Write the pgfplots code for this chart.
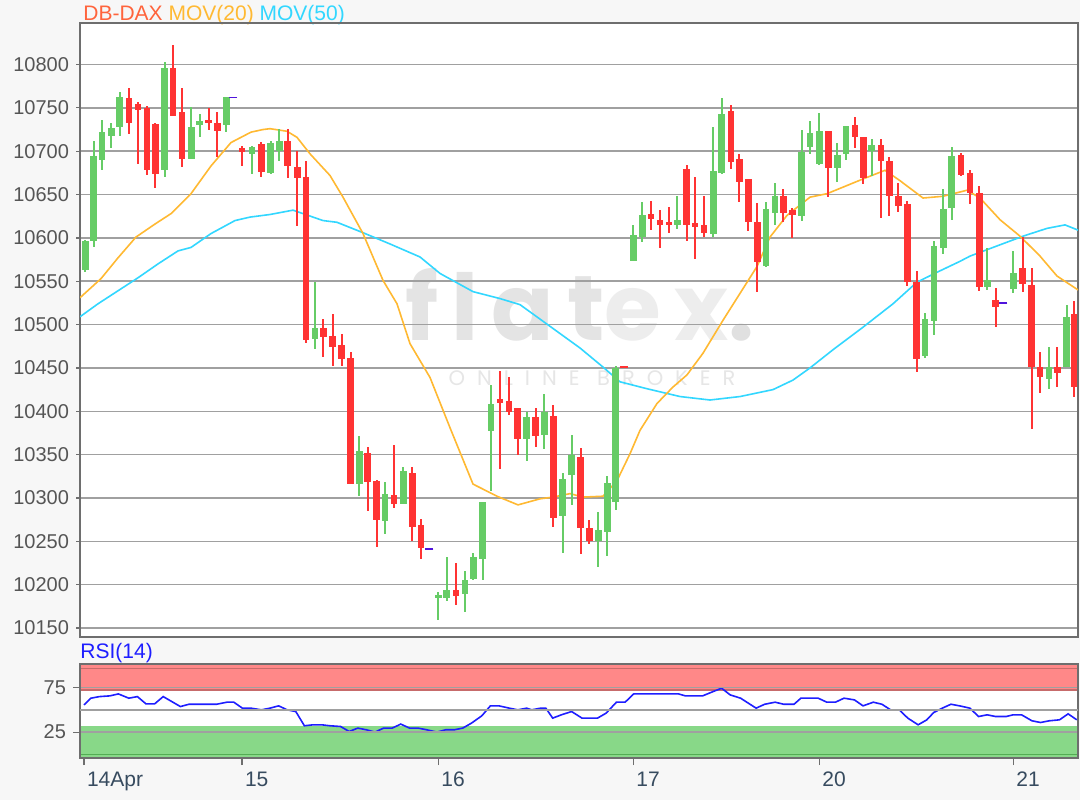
\documentclass[border=0pt]{standalone}
\usepackage{pgfplots}
\pgfplotsset{compat=1.18}
\usepackage{pgfplotstable}
\usepackage{fontspec}
\setmainfont{Liberation Sans}
\newfontfamily\wmfont[LetterSpace=14]{Poppins}
\newfontfamily\wmsmall[LetterSpace=57]{Poppins}

\definecolor{bgc}{RGB}{247,247,247}
\definecolor{axc}{RGB}{110,110,110}
\definecolor{gridc}{RGB}{160,160,160}
\definecolor{labc}{RGB}{85,85,85}
\definecolor{xlabc}{RGB}{55,75,95}
\definecolor{cgreen}{RGB}{102,204,102}
\definecolor{cred}{RGB}{255,51,51}
\definecolor{maorange}{RGB}{255,185,50}
\definecolor{macyan}{RGB}{50,215,255}
\definecolor{dashblue}{RGB}{80,20,220}
\definecolor{rsiblue}{RGB}{30,30,255}
\definecolor{bandred}{RGB}{255,136,136}
\definecolor{bandgreen}{RGB}{136,216,136}
\definecolor{titlered}{RGB}{255,100,60}

% candles: x position (chart px), open, high, low, close
\pgfplotstableread{
x o h l c
85.3 10563 10598 10561 10597
93.7 10596 10712 10589 10694
102 10690 10736 10678 10722
111.3 10718 10732 10704 10727
119.7 10728 10768 10718 10763
164.7 10678 10803 10670 10796
191.3 10691 10751 10691 10728
199.7 10730 10743 10716 10735
226.3 10730 10763 10722 10763
252 10697 10706 10674 10705
270.5 10675 10712 10674 10710
279.3 10700 10726 10689 10712
315 10483 10549 10472 10496
359.3 10316 10371 10302 10354
385 10273 10318 10258 10305
403.3 10293 10336 10293 10331
438.3 10185 10192 10159 10188
446.7 10185 10232 10181 10194
465 10189 10216 10169 10206
473.3 10207 10237 10205 10232
482.7 10230 10296 10205 10296
491 10377 10430 10308 10409
526.7 10368 10399 10343 10393
544.3 10373 10420 10357 10399
562.7 10279 10329 10237 10322
571.7 10327 10373 10292 10350
598.3 10250 10284 10221 10263
607.3 10261 10326 10233 10317
615.7 10295 10452 10286 10450
633.3 10573 10615 10573 10603
642.3 10601 10642 10595 10626
677.3 10615 10648 10610 10621
713.3 10605 10728 10601 10677
721.7 10675 10761 10674 10743
766 10568 10642 10567 10633
775 10629 10663 10615 10648
801.7 10625 10725 10619 10699
810 10705 10735 10697 10721
819.3 10685 10744 10684 10723
837.3 10681 10709 10665 10696
846 10697 10729 10690 10729
871.7 10700 10714 10671 10707
925 10464 10513 10462 10506
934 10504 10597 10488 10591
943.3 10589 10657 10582 10634
951.7 10635 10705 10621 10695
987.3 10543 10588 10540 10552
1013.3 10541 10585 10536 10560
1049 10437 10474 10426 10451
1066.7 10451 10523 10451 10509
}\greencandles

\pgfplotstableread{
x o h l c
129 10761 10773 10720 10732
138 10754 10757 10685 10748
147 10750 10752 10672 10678
155.3 10731 10733 10658 10674
173 10796 10823 10741 10741
182 10745 10773 10682 10691
208.7 10736 10750 10724 10732
217.3 10733 10745 10693 10723
242 10704 10706 10683 10699
261.2 10708 10711 10670 10676
287.7 10712 10726 10669 10683
297.3 10682 10700 10614 10669
306 10670 10689 10479 10482
323.3 10496 10507 10463 10486
332.7 10487 10512 10452 10474
341.7 10476 10489 10452 10460
350.7 10462 10468 10316 10316
367.7 10352 10359 10285 10318
376.7 10320 10321 10244 10275
394 10303 10361 10288 10293
412.3 10329 10336 10250 10267
421 10269 10276 10230 10242
456 10194 10225 10177 10187
500 10414 10446 10334 10410
509 10412 10440 10396 10399
517.7 10404 10404 10350 10368
535.7 10393 10404 10359 10371
553.3 10395 10407 10267 10277
580.7 10347 10358 10235 10265
589.3 10266 10275 10247 10250
651 10628 10642 10609 10622
660 10621 10632 10588 10615
669 10618 10636 10606 10615
686.7 10679 10684 10597 10615
695 10617 10670 10576 10613
704 10615 10648 10601 10606
731 10746 10753 10679 10688
739.3 10691 10697 10642 10665
748.3 10668 10668 10608 10618
757.3 10619 10640 10538 10572
783.3 10648 10656 10619 10629
792.3 10632 10635 10600 10627
828.3 10723 10723 10647 10681
855 10730 10740 10704 10716
863.3 10717 10717 10662 10669
881 10707 10714 10623 10689
889.3 10689 10693 10625 10648
898.3 10648 10663 10630 10637
907.3 10639 10643 10545 10549
916.7 10549 10562 10445 10460
961 10696 10698 10671 10673
970 10675 10678 10639 10652
979.3 10652 10660 10539 10543
995.7 10529 10542 10497 10520
1022.7 10565 10601 10538 10547
1031.7 10546 10565 10380 10451
1040 10451 10468 10421 10439
1057.3 10451 10474 10428 10444
1074 10512 10527 10416 10428
}\redcandles

\pgfplotstableread{
x rsi
84 55.6
90.9 63.1
99.5 64.9
109.8 65.7
118.4 67.9
128.8 63.1
137.4 64.9
146 56.7
154.6 56.7
163.2 64.9
171.8 59.3
180.4 53.7
189 56.3
216.6 56.3
226.9 58.6
233.8 58.6
242.4 51.9
251 51.9
261.4 50
270 51.9
278.6 54.5
287.2 50
295.8 48.1
304.4 32.1
313 33.2
321.6 33.2
330.2 32.1
340.6 31.3
349.2 25.7
357.8 29.5
366.4 27.6
375 25
383.6 29.5
392.2 29.5
400.8 34
409.5 29.5
418.1 29.5
426.7 27.6
437 25
445.6 27.6
454.2 27.6
462.8 29.5
471.5 35.1
481.8 43.3
490.4 54.5
499 54.5
509.3 51.9
517.9 50
526.6 51.9
531.7 50
540.6 51.9
545.8 51.9
552.7 40.7
561.3 44.4
571.6 48.1
582 40.7
597.5 40.7
606.1 46.3
616.4 58.6
625.1 58.6
633.7 67.9
678.5 67.9
685.4 65.7
702.6 65.7
713 70.5
721.6 74.3
730.2 66.8
740.6 63.1
756.1 51.9
764.7 56.3
775.1 58.6
783.7 56.3
794 56.3
800.9 63.1
818.2 63.1
826.8 58.6
835.4 58.6
844 63.1
854.4 61.2
863 54.5
873.3 58.6
881.9 56.3
890.6 50
899.2 50
907.8 40.7
918.1 33.2
926.8 38.8
933.7 47
942.3 51.9
950.9 56.3
959.5 54.5
969.9 51.9
978.5 42.5
987.1 44.4
995.7 42.5
1006.1 42.5
1013 44.4
1021.6 44.4
1031.9 37.7
1040.6 35.8
1049.2 37.7
1059.5 38.8
1068.1 45.5
1076.8 38.8
}\rsidata

\begin{document}
\begin{tikzpicture}
\useasboundingbox (0,0) rectangle (540pt,400pt);
\fill[bgc] (0,0) rectangle (540pt,400pt);
\fill[white] (40pt,81.5pt) rectangle (539pt,388.5pt);
\fill[white] (40pt,21pt) rectangle (539pt,68pt);

% watermark
\node[anchor=base, inner sep=0pt] at (290pt,230pt)
  {\wmfont\bfseries\fontsize{46}{48}\selectfont\textcolor[RGB]{228,228,228}{flat}\textcolor[RGB]{237,237,237}{ex}\textcolor[RGB]{224,224,224}{.}};
\node[anchor=center, inner sep=0pt] at (296pt,211pt)
  {\wmsmall\fontsize{10.5}{12}\selectfont\textcolor[RGB]{230,230,230}{ONLINE BROKER}};

% title
\node[anchor=west, inner sep=0pt] at (41.5pt,392.5pt)
  {\fontsize{10.5}{12}\selectfont\textcolor{titlered}{DB-DAX}\ \textcolor{maorange}{MOV(20)}\ \textcolor{macyan}{MOV(50)}};
\node[anchor=west, inner sep=0pt] at (40pt,73.5pt)
  {\fontsize{10.5}{12}\selectfont\textcolor{rsiblue}{RSI(14)}};

\begin{axis}[
  at={(40pt,81.5pt)}, anchor=south west,
  scale only axis, width=499pt, height=307pt,
  xmin=80, xmax=1078, ymin=10139.6, ymax=10847.9,
  xtick=\empty,
  ytick={10150,10200,...,10800},
  scaled y ticks=false,
  ytick pos=left, tick align=outside, major tick length=2pt,
  tick style={axc, line width=0.6pt},
  ymajorgrids, grid style={gridc, line width=0.75pt},
  axis line style={axc, line width=0.8pt},
  yticklabel style={font=\fontsize{10}{12}\selectfont, text=labc,
    /pgf/number format/fixed, /pgf/number format/precision=0,
    /pgf/number format/1000 sep={}, /pgf/number format/assume math mode=true},
]
% moving average 50
\addplot[macyan, line width=0.8pt] coordinates {
(80,10509) (98,10524) (118,10539) (138,10554) (158,10570) (178,10585) (191,10589)
(211,10605) (235,10620) (250,10624) (270,10627) (293,10632) (303,10628) (323,10620)
(337,10618) (363,10606) (390,10593) (420,10578) (440,10559) (473,10538) (500,10530)
(520,10523) (550,10498) (580,10473) (603,10451) (620,10434) (647,10426) (680,10417)
(710,10413) (740,10417) (773,10425) (793,10436) (810,10450) (833,10471) (863,10497)
(893,10524) (917,10549) (940,10562) (960,10573) (970,10579) (993,10589) (1023,10602)
(1047,10611) (1065,10615) (1078,10609)
};
% moving average 20
\addplot[maorange, line width=0.8pt] coordinates {
(80,10531) (101,10553) (118,10577) (136,10601) (155,10616) (171,10628) (191,10651)
(211,10683) (231,10710) (251,10722) (263,10725) (270,10726) (287,10723) (297,10716)
(310,10697) (330,10672) (343,10647) (363,10605) (383,10551) (397,10524) (410,10478)
(430,10439) (450,10381) (473,10316) (497,10302) (518,10292) (540,10299) (553,10301)
(570,10305) (583,10301) (603,10302) (617,10320) (630,10351) (640,10378) (657,10409)
(673,10428) (687,10442) (703,10467) (723,10505) (740,10536) (757,10567) (770,10601)
(787,10626) (810,10647) (827,10651) (863,10668) (885,10678) (900,10666) (923,10646)
(943,10648) (967,10655) (980,10646) (1000,10621) (1020,10602) (1040,10579)
(1057,10556) (1078,10540)
};
% wicks
\addplot[draw=none, mark=none, error bars/.cd, y dir=both, y explicit, error mark=none,
  error bar style={draw=cgreen, line width=1pt}]
  table[x=x, y expr={(\thisrow{h}+\thisrow{l})/2}, y error expr={(\thisrow{h}-\thisrow{l})/2}] {\greencandles};
\addplot[draw=none, mark=none, error bars/.cd, y dir=both, y explicit, error mark=none,
  error bar style={draw=cred, line width=1pt}]
  table[x=x, y expr={(\thisrow{h}+\thisrow{l})/2}, y error expr={(\thisrow{h}-\thisrow{l})/2}] {\redcandles};
% bodies
\addplot[draw=none, mark=none, error bars/.cd, y dir=both, y explicit, error mark=none,
  error bar style={draw=cgreen, line width=3.3pt}]
  table[x=x, y expr={(\thisrow{o}+\thisrow{c})/2}, y error expr={max(abs(\thisrow{c}-\thisrow{o})/2,1.5)}] {\greencandles};
\addplot[draw=none, mark=none, error bars/.cd, y dir=both, y explicit, error mark=none,
  error bar style={draw=cred, line width=3.3pt}]
  table[x=x, y expr={(\thisrow{o}+\thisrow{c})/2}, y error expr={max(abs(\thisrow{c}-\thisrow{o})/2,1.5)}] {\redcandles};
% previous close markers
\addplot[only marks, mark=-, mark size=2pt, mark options={dashblue, line width=0.9pt}]
  coordinates {(233,10762) (429.3,10241) (1003.3,10525)};
\addplot[only marks, mark=-, mark size=2pt, mark options={cred, line width=0.9pt}]
  coordinates {(624,10451)};
\end{axis}

\begin{axis}[
  at={(40pt,21pt)}, anchor=south west,
  scale only axis, width=499pt, height=47pt,
  xmin=80, xmax=1078, ymin=-4.1, ymax=101.5,
  xtick={84,242,438.3,633.3,819.3,1013.3},
  xticklabels={14Apr,15,16,17,20,21},
  ytick={25,75},
  extra y ticks={50}, extra y tick labels={},
  extra y tick style={major tick length=0pt, grid style={gridc, line width=0.75pt}},
  xtick pos=bottom, ytick pos=left, tick align=outside, major tick length=3.5pt,
  tick style={axc, line width=0.6pt},
  axis line style={axc, line width=0.8pt},
  ymajorgrids, grid style={gridc, line width=0.75pt},
  axis on top,
  xticklabel style={font=\fontsize{10.5}{12}\selectfont, text=xlabc, anchor=north west, xshift=-2pt},
  yticklabel style={font=\fontsize{10}{12}\selectfont, text=labc,
    /pgf/number format/assume math mode=true},
]
\fill[bandred] (axis cs:80,72.4) rectangle (axis cs:1078,101.5);
\fill[bandgreen] (axis cs:80,-4.1) rectangle (axis cs:1078,32.1);
\draw[red!45!gray!80, line width=0.7pt] (axis cs:80,96.6) -- (axis cs:1078,96.6);
\draw[red!45!gray!80, line width=0.7pt] (axis cs:80,72.4) -- (axis cs:1078,72.4);
\draw[green!35!gray, line width=0.7pt] (axis cs:80,25) -- (axis cs:1078,25);
\draw[green!35!gray, line width=0.7pt] (axis cs:80,-0.4) -- (axis cs:1078,-0.4);
\addplot[rsiblue, line width=0.8pt] table[x=x, y=rsi] {\rsidata};
\end{axis}
\end{tikzpicture}
\end{document}
